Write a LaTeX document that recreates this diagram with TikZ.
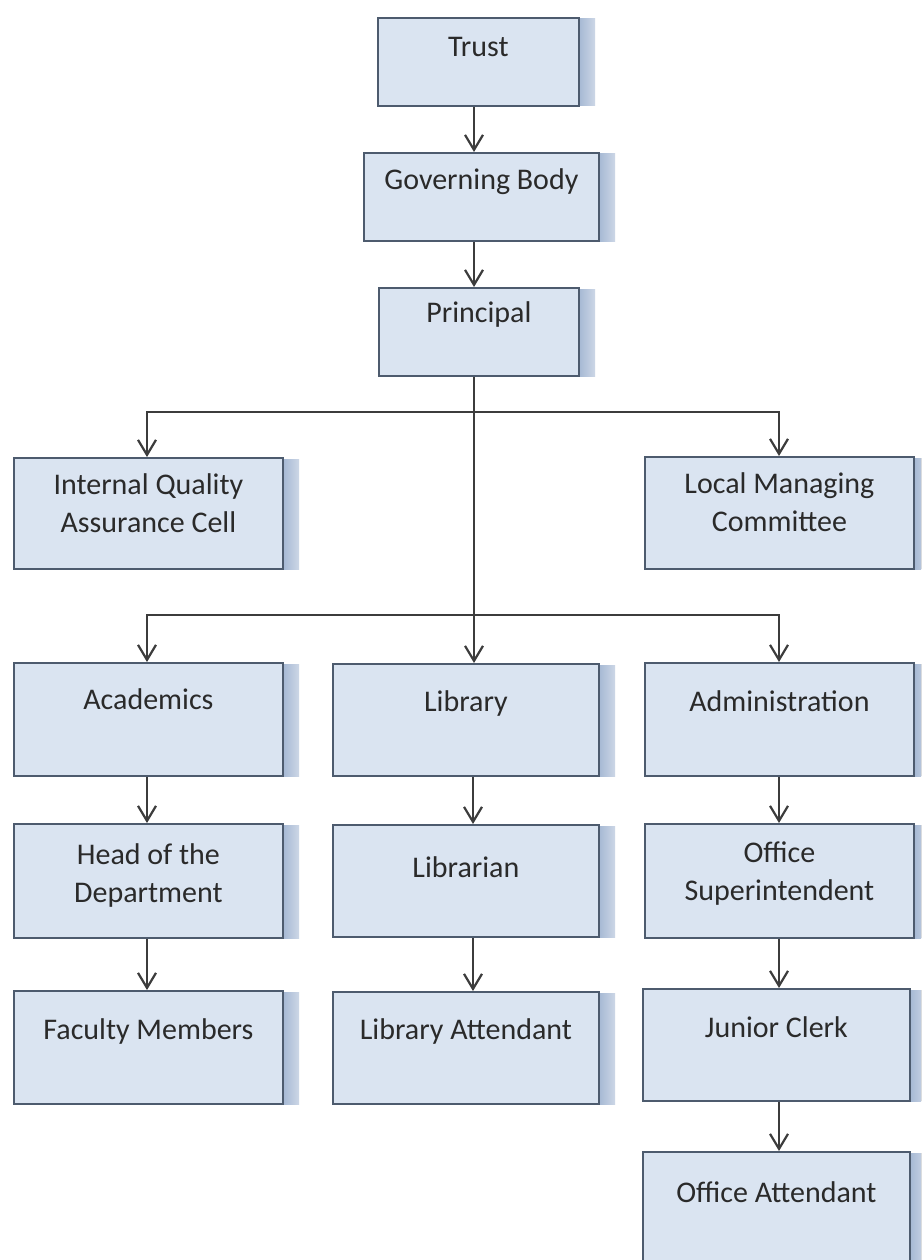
\documentclass[tikz,border=0pt]{standalone}
\usepackage{fontspec}
\setmainfont{Carlito}
\usetikzlibrary{arrows.meta,calc}
\definecolor{boxfill}{HTML}{DAE4F1}
\definecolor{boxborder}{HTML}{4D5B6E}
\definecolor{shadowcol}{HTML}{A3B6D2}
\definecolor{linecol}{HTML}{3C3C3C}
\definecolor{txtcol}{HTML}{2A2A2A}
\tikzset{
  orgnode/.style={draw=boxborder, fill=boxfill, line width=1.8pt, rectangle, inner sep=0pt, anchor=north west, text=txtcol},
  conn/.style={draw=linecol, line width=2.2pt},
  arr/.style={conn, -{Straight Barb[length=15pt,width=18pt]}},
}
\newcommand{\orgbox}[7]{%
  \fill[left color=shadowcol, right color=shadowcol!55!white] (#4,#3+2) rectangle (#4+17,#5+1);
  \pgfmathsetmacro{\bw}{#4-#2}%
  \pgfmathsetmacro{\bh}{#5-#3}%
  \node[orgnode, minimum width=\bw pt, minimum height=\bh pt] (#1) at (#2,#3)
    {\parbox[t][\bh pt][t]{\bw pt}{\fontsize{30}{38}\selectfont\centering\vspace*{#6pt}\strut #7}};%
}
\begin{document}
\begin{tikzpicture}[x=1pt,y=-1pt]
\fill[white] (0,0) rectangle (921,1260);
\useasboundingbox (0,0) rectangle (921,1260);
\begin{scope}
\clip (0,0) rectangle (921,1260);
\orgbox{trust}{377}{17}{578}{105}{12}{Trust}
\orgbox{gov}{363}{152}{598}{240}{10}{Governing Body}
\orgbox{principal}{378}{287}{578}{375}{8}{Principal}
\orgbox{iqac}{13}{457}{282}{568}{10}{Internal Quality\\Assurance Cell}
\orgbox{lmc}{644}{456}{913}{568}{10}{Local Managing\\Committee}
\orgbox{acad}{13}{662}{282}{775}{20}{Academics}
\orgbox{library}{332}{663}{598}{775}{21}{Library}
\orgbox{admin}{644}{662}{913}{775}{22}{Administration}
\orgbox{hod}{13}{823}{282}{937}{14}{Head of the\\Department}
\orgbox{librarian}{332}{824}{598}{936}{26}{Librarian}
\orgbox{offsup}{644}{823}{913}{937}{12}{Office\\Superintendent}
\orgbox{faculty}{13}{990}{282}{1103}{22}{Faculty Members}
\orgbox{libatt}{332}{991}{598}{1103}{21}{Library Attendant}
\orgbox{jrclerk}{642}{988}{909}{1100}{22}{Junior Clerk}
\orgbox{offatt}{642}{1151}{909}{1275}{24}{Office Attendant}
\end{scope}
\coordinate (spine) at (474,0);
\coordinate (lcol) at (147,0);
\coordinate (ccol) at (473,0);
\coordinate (rcol) at (779,0);
\coordinate (bar1) at (474,412);
\coordinate (bar2) at (474,615);
\draw[arr] (trust.south -| spine) -- (gov.north -| spine);
\draw[arr] (gov.south -| spine) -- (principal.north -| spine);
\draw[arr] (principal.south -| spine) -- (library.north -| spine);
\draw[arr] (bar1) -| (iqac.north -| lcol);
\draw[arr] (bar1) -| (lmc.north -| rcol);
\draw[arr] (bar2) -| (acad.north -| lcol);
\draw[arr] (bar2) -| (admin.north -| rcol);
\draw[arr] (acad.south -| lcol) -- (hod.north -| lcol);
\draw[arr] (hod.south -| lcol) -- (faculty.north -| lcol);
\draw[arr] (library.south -| ccol) -- (librarian.north -| ccol);
\draw[arr] (librarian.south -| ccol) -- (libatt.north -| ccol);
\draw[arr] (admin.south -| rcol) -- (offsup.north -| rcol);
\draw[arr] (offsup.south -| rcol) -- (jrclerk.north -| rcol);
\draw[arr] (jrclerk.south -| rcol) -- (offatt.north -| rcol);
\end{tikzpicture}
\end{document}
